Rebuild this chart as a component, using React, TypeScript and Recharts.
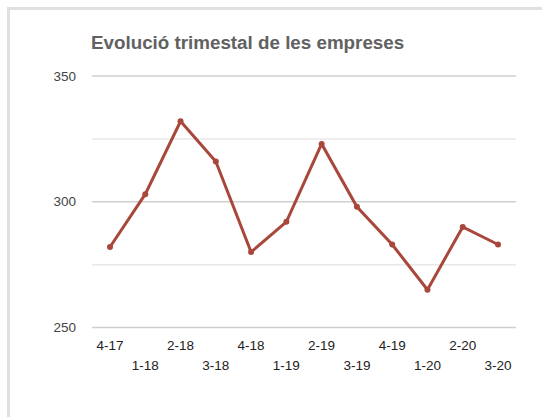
import React from 'react';
import { LineChart, Line, XAxis, YAxis, ReferenceLine } from 'recharts';

const quarters = ['4-17', '1-18', '2-18', '3-18', '4-18', '1-19', '2-19', '3-19', '4-19', '1-20', '2-20', '3-20'];
const empreses = [282, 303, 332, 316, 280, 292, 323, 298, 283, 265, 290, 283];
const yTicks = [250, 275, 300, 325, 350];
const yLabelTicks = [250, 300, 350];
const majorGrid = [250, 300, 350];
const minorGrid = [275, 325];
const title = 'Evolució trimestal de les empreses';

const data = quarters.map((q, i) => ({ q, v: empreses[i] }));

const FONT = "Arial, 'Liberation Sans', sans-serif";

const YTick = (props: any) => {
  const { x, y, payload } = props;
  if (!yLabelTicks.includes(payload.value)) return null;
  return (
    <text x={x} y={y} dy="0.35em" textAnchor="end" fontSize={13.5} fontFamily={FONT} fill="#444">
      {payload.value}
    </text>
  );
};

const XTick = (props: any) => {
  const { x, y, payload, index } = props;
  const row = index % 2;
  return (
    <text x={x} y={y} dy={row === 0 ? 14 : 34} textAnchor="middle" fontSize={13.5} fontFamily={FONT} fill="#222">
      {payload.value}
    </text>
  );
};

export default function App() {
  return (
    <div
      style={{
        position: 'absolute',
        left: 7,
        top: 7,
        width: 532,
        height: 407,
        borderLeft: '3px solid #e0e0e0',
        borderTop: '3px solid #e0e0e0',
        background: '#fff',
      }}
    >
      <div
        style={{
          position: 'absolute',
          left: 81,
          top: 24,
          fontFamily: FONT,
          fontWeight: 'bold',
          fontSize: 18.8,
          lineHeight: '18.8px',
          color: '#616161',
          whiteSpace: 'nowrap',
        }}
      >
        {title}
      </div>
      <LineChart width={532} height={407} data={data} margin={{ top: 66, right: 26, bottom: 39.5, left: 0 }}>
        {minorGrid.map((g) => (
          <ReferenceLine key={'m' + g} y={g} stroke="#e8e8e8" strokeWidth={1.5} />
        ))}
        {majorGrid.map((g) => (
          <ReferenceLine key={'M' + g} y={g} stroke="#cfcfcf" strokeWidth={1.5} />
        ))}
        <XAxis
          dataKey="q"
          interval={0}
          axisLine={false}
          tickLine={false}
          height={50}
          padding={{ left: 18, right: 18 }}
          tick={<XTick />}
        />
        <YAxis
          domain={[250, 350]}
          ticks={yTicks}
          width={82}
          axisLine={false}
          tickLine={false}
          tickMargin={10}
          tick={<YTick />}
        />
        <Line
          type="linear"
          dataKey="v"
          stroke="#a8473b"
          strokeWidth={3}
          dot={{ r: 3, fill: '#a8473b', stroke: 'none' }}
          isAnimationActive={false}
        />
      </LineChart>
    </div>
  );
}
